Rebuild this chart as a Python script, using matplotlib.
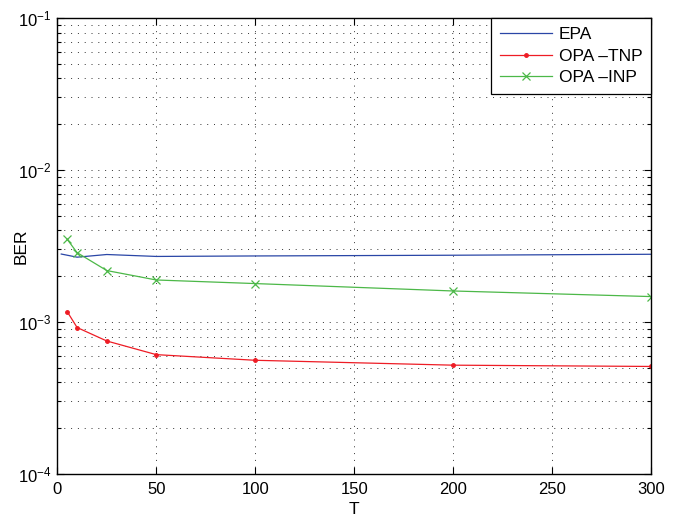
import numpy as np
import matplotlib
matplotlib.use("Agg")
import matplotlib.pyplot as plt
from matplotlib.ticker import LogLocator, NullFormatter, MultipleLocator

plt.rcParams["font.family"] = ["Liberation Sans", "DejaVu Sans"]
plt.rcParams["mathtext.fontset"] = "custom"
plt.rcParams["mathtext.rm"] = "Liberation Sans"
plt.rcParams["mathtext.it"] = "Liberation Sans"
plt.rcParams["mathtext.default"] = "regular"

# values
t_epa = [2, 10, 25, 50, 100, 200, 300]
ber_epa = [2.80e-3, 2.67e-3, 2.78e-3, 2.70e-3, 2.72e-3, 2.75e-3, 2.79e-3]

t_opa = [5, 10, 25, 50, 100, 200, 300]
ber_tnp = [1.17e-3, 9.2e-4, 7.5e-4, 6.1e-4, 5.6e-4, 5.2e-4, 5.1e-4]
ber_inp = [3.50e-3, 2.86e-3, 2.18e-3, 1.89e-3, 1.79e-3, 1.60e-3, 1.47e-3]

labels = ["EPA", "OPA \u2013TNP", "OPA \u2013INP"]

fig = plt.figure(figsize=(6.83, 5.19), dpi=100)
ax = fig.add_axes([0.0839, 0.0867, 0.8693, 0.8786])

ax.semilogy(t_epa, ber_epa, color="#2a46a6", lw=0.9, label=labels[0])
ax.semilogy(t_opa, ber_tnp, color="#ee1c25", lw=0.9, marker=".", ms=5, label=labels[1])
ax.semilogy(t_opa, ber_inp, color="#4cb848", lw=0.9, marker="x", ms=6, mew=0.9, label=labels[2])

ax.set_xlim(0, 300)
ax.set_ylim(1e-4, 1e-1)
ax.xaxis.set_major_locator(MultipleLocator(50))
ax.yaxis.set_major_locator(LogLocator(base=10, numticks=10))
ax.yaxis.set_minor_locator(LogLocator(base=10, subs=np.arange(2, 10), numticks=20))
ax.yaxis.set_minor_formatter(NullFormatter())

dots = (0, (1, 6))
ax.grid(True, which="major", axis="both", linestyle=dots, color="#333333", lw=0.7)
ax.grid(True, which="minor", axis="y", linestyle=dots, color="#333333", lw=0.7)

ax.tick_params(which="both", direction="in", top=True, right=True, labelsize=12, width=0.8)
ax.tick_params(which="major", length=5)
ax.tick_params(which="minor", length=3)
ax.tick_params(axis="x", pad=6)
ax.tick_params(axis="y", pad=4)
for s in ax.spines.values():
    s.set_linewidth(1.0)

ax.set_xlabel("T", fontsize=12.5, labelpad=3)
ax.set_ylabel("BER", fontsize=12.5)
ax.yaxis.set_label_coords(-0.0485, 0.5)

leg = ax.legend(loc="upper right", fontsize=12.5, fancybox=False, framealpha=1,
                edgecolor="black", borderaxespad=0, handlelength=3.0,
                handletextpad=0.4, borderpad=0.5, labelspacing=0.38)
leg.get_frame().set_linewidth(0.9)

fig.savefig("out.png", dpi=100)
